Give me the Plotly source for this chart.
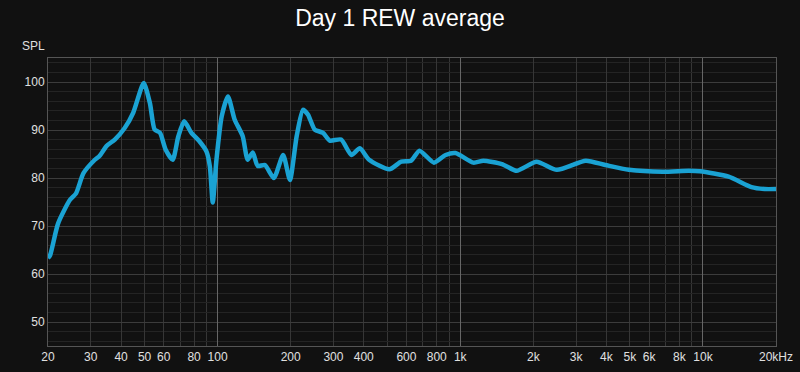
import plotly.graph_objects as go

# Frequency response (Hz) and SPL (dB)
freq = [20, 20.4, 22.0, 24.6, 26.1, 28.0, 31.2, 32.6, 34.9, 37.7, 41.4, 44.9, 49.6,
        52.6, 55.0, 57.9, 61.1, 65.3, 68.9, 72.8, 78.0, 84.3, 90.0, 92.9, 95.5,
        98.9, 103.9, 110.3, 117.5, 126.9, 133, 139.6, 146.3, 156.7, 170.5, 186.2,
        198.6, 211.7, 224.7, 235.7, 251.2, 271.9, 289.8, 322.8, 355.8, 385.5,
        421, 510, 571, 627, 679, 779, 870, 955, 1133, 1244, 1483, 1706, 2062,
        2500, 3288, 3960, 4956, 6830, 8740, 9720, 12760, 15850, 17950, 20000]
spl = [63.3, 63.9, 70.5, 75.4, 76.8, 81.0, 83.8, 84.6, 86.7, 88.0, 90.4, 93.6, 99.8,
       95.6, 90.1, 89.4, 85.9, 83.8, 88.7, 91.8, 89.4, 87.6, 85.5, 82.4, 74.9,
       83.8, 92.8, 97.0, 92.2, 88.7, 83.8, 85.3, 82.5, 82.7, 80.0, 84.8,
       79.6, 88.7, 94.2, 93.2, 90.1, 89.4, 87.8, 88.0, 84.8, 86.2,
       83.8, 81.8, 83.4, 83.6, 85.7, 83.2, 84.8, 85.2, 83.2, 83.6, 82.9, 81.5, 83.4,
       81.7, 83.6, 82.7, 81.7, 81.3, 81.5, 81.4, 80.3, 78.1, 77.7, 77.7]

x_tickvals = [20, 30, 40, 50, 60, 80, 100, 200, 300, 400, 600, 800, 1000,
              2000, 3000, 4000, 5000, 6000, 8000, 10000, 20000]
x_ticktext = ["20", "30", "40", "50", "60", "80", "100", "200", "300", "400",
              "600", "800", "1k", "2k", "3k", "4k", "5k", "6k", "8k", "10k", "20kHz"]
x_minor = [70, 90, 500, 700, 900, 7000, 9000]
x_decades = [100, 1000, 10000]
y_tickvals = [50, 60, 70, 80, 90, 100]

FONT = "Liberation Sans, Arial, Helvetica, sans-serif"

fig = go.Figure()
# invisible trace on overlay axis for brighter decade grid lines
fig.add_trace(go.Scatter(x=[20, 20000], y=[45, 105], xaxis="x2", mode="markers",
                         marker=dict(opacity=0), showlegend=False, hoverinfo="skip"))
fig.add_trace(go.Scatter(
    x=freq, y=spl, mode="lines",
    line=dict(color="#1aa2d3", width=4.5, shape="spline", smoothing=0.6),
    hoverinfo="skip", showlegend=False,
))

fig.update_layout(
    width=800, height=372,
    paper_bgcolor="#111111", plot_bgcolor="#111111",
    margin=dict(l=48, r=24, t=58, b=26, autoexpand=False),
    font=dict(family=FONT, color="#e0e0e0", size=12),
    title=dict(text="Day 1 REW average", x=0.5, xanchor="center", y=0.952, yanchor="middle",
               font=dict(family=FONT, size=23, color="#ffffff")),
    xaxis=dict(
        type="log", range=[1.30103, 4.30103], automargin=False,
        tickmode="array", tickvals=x_tickvals, ticktext=x_ticktext,
        showgrid=True, gridcolor="#363636", gridwidth=1,
        minor=dict(tickmode="array", tickvals=x_minor, showgrid=True,
                   gridcolor="#363636", gridwidth=1, ticks=""),
        zeroline=False, showline=True, linecolor="#555555", linewidth=1, mirror=True,
        ticks="", tickfont=dict(size=12, color="#e0e0e0"),
    ),
    xaxis2=dict(
        type="log", range=[1.30103, 4.30103], overlaying="x", automargin=False,
        tickmode="array", tickvals=x_decades, showticklabels=False,
        showgrid=True, gridcolor="#666666", gridwidth=1, zeroline=False,
    ),
    yaxis=dict(
        range=[45, 105], tickmode="array", tickvals=y_tickvals, automargin=False,
        showgrid=True, gridcolor="#3c3c3c", gridwidth=1,
        minor=dict(dtick=2, showgrid=True, gridcolor="#242424", gridwidth=1, ticks=""),
        zeroline=False, showline=True, linecolor="#555555", linewidth=1, mirror=True,
        ticks="", tickfont=dict(size=12, color="#e0e0e0"),
    ),
    annotations=[dict(text="SPL", xref="paper", yref="paper", x=-0.02, y=1.0,
                      xanchor="center", yanchor="bottom", yshift=3, showarrow=False,
                      font=dict(family=FONT, size=12, color="#e0e0e0"))],
)

fig.write_html(
    "out.html",
    config={"displayModeBar": False},
    post_script="document.body.style.margin='0';document.body.style.background='#111111';",
)
